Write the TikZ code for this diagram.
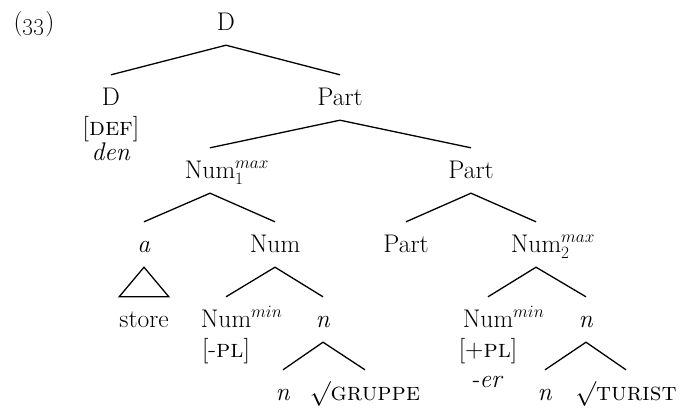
\documentclass[tikz,border=0pt]{standalone}
\begin{document}
\begin{tikzpicture}[x=1pt,y=-1pt,
  font=\fontsize{25.5}{30}\selectfont,
  cat/.style={anchor=base,inner sep=0pt,text height=30pt,text depth=15pt},
  feat/.style={anchor=base,inner sep=0pt},
  branch/.style={line width=1.3pt}]
\useasboundingbox (0,0) rectangle (680,408);
\node[feat] (ex) at (34,30) {(\oldstylenums{33})};
\node[cat] (D0) at (226,30) {D};
\node[cat] (D1) at (111,105) {D};
\node[feat] (def) at (111,135) {[\textsc{def}]};
\node[feat] (den) at (111,160) {\textit{den}};
\node[cat] (P1) at (340,105) {Part};
\node[cat] (N1) at (210,178) {Num\rlap{$^{max}_{1}$}};
\node[cat] (P2) at (471,178) {Part};
\node[cat] (a) at (144,252) {\textit{a}};
\node[cat] (Nm) at (275,252) {Num};
\node[cat] (P3) at (406,252) {Part};
\node[cat] (N2) at (536,252) {Num\rlap{$^{max}_{2}$}};
\node[cat] (store) at (144,327) {store};
\node[cat] (Nmin1) at (226,327) {Num\rlap{$^{min}$}};
\node[cat] (n1) at (323,327) {\textit{n}};
\node[feat] (pl1) at (226,357) {[-\textsc{pl}]};
\node[cat] (Nmin2) at (488,327) {Num\rlap{$^{min}$}};
\node[cat] (n2) at (586,327) {\textit{n}};
\node[feat] (pl2) at (488,357) {[+\textsc{pl}]};
\node[feat] (er) at (487,387) {\textit{-er}};
\node[cat] (n3) at (283,400) {\textit{n}};
\node[cat] (gr) at (365,400) {$\surd$\textsc{gruppe}};
\node[cat] (n4) at (545,400) {\textit{n}};
\node[cat] (tu) at (626,400) {$\surd$\textsc{turist}};
\draw[branch] (D1.north) -- (D0.south) -- (P1.north);
\draw[branch] (N1.north) -- (P1.south) -- (P2.north);
\draw[branch] (a.north) -- (N1.south) -- (Nm.north);
\draw[branch] (P3.north) -- (P2.south) -- (N2.north);
\draw[branch] (store.north west) -- (a.south) -- (store.north east) -- cycle;
\draw[branch] (Nmin1.north) -- (Nm.south) -- (n1.north);
\draw[branch] (Nmin2.north) -- (N2.south) -- (n2.north);
\draw[branch] (n3.north) -- (n1.south) -- (gr.north);
\draw[branch] (n4.north) -- (n2.south) -- (tu.north);
\end{tikzpicture}
\end{document}
